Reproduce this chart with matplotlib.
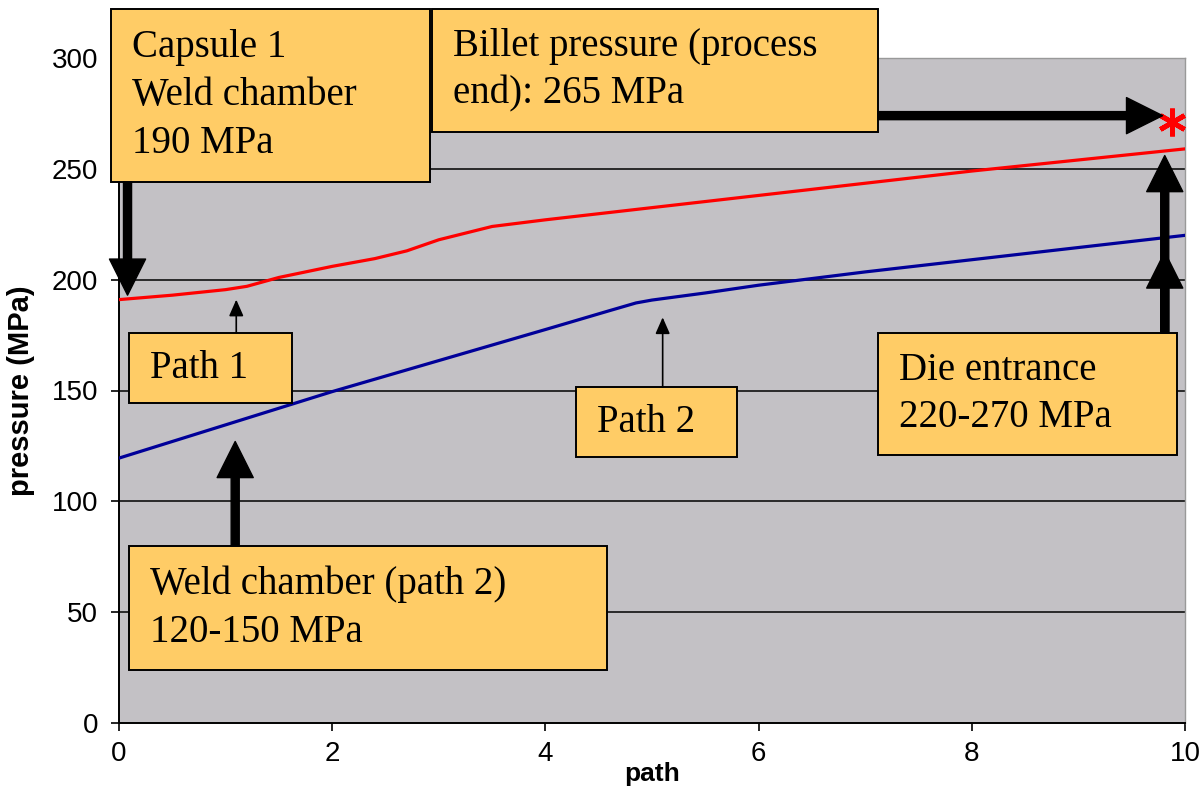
import numpy as np
import matplotlib.pyplot as plt
from matplotlib.patches import Rectangle

# path 1 (red) and path 2 (blue) pressure along the path
path1_x = [0, 0.5, 1.0, 1.2, 1.5, 2.0, 2.4, 2.7, 3.0, 3.5, 4.0, 5.0, 6.0, 7.0, 8.0, 9.0, 10.0]
path1_y = [191, 193, 195.5, 197, 201, 206, 209.5, 213, 218, 224, 227, 232.5, 238, 243.5, 249, 254, 259]
path2_x = [0, 1, 2, 3, 4, 4.6, 4.85, 5.0, 5.5, 6, 7, 8, 9, 10]
path2_y = [119.5, 134.5, 149.5, 163.5, 177.5, 186, 189.5, 190.8, 194, 197.5, 203.5, 209, 214.5, 220]

# billet pressure at process end
billet_x = [9.88]
billet_y = [271]

W, H = 1203, 787
fig = plt.figure(figsize=(W / 100, H / 100), dpi=100)
ax = fig.add_axes([119 / W, 1 - 723 / H, 1066 / W, 665 / H])
ax.set_facecolor('#c3c1c5')

ax.plot(path1_x, path1_y, color='#ff0000', lw=2.3, zorder=3)
ax.plot(path2_x, path2_y, color='#000099', lw=2.3, zorder=3)
ax.plot(billet_x, billet_y, linestyle='none', marker=(6, 2, 0), markersize=20,
        mew=3.5, color='#ff0000', zorder=4)

ax.set_xlim(0, 10)
ax.set_ylim(0, 300)
ax.set_xticks(np.arange(0, 11, 2))
ax.set_yticks(np.arange(0, 301, 50))
ax.yaxis.grid(True, color='black', lw=1.1)
gl = ax.yaxis.get_gridlines()
gl[0].set_visible(False)
gl[-1].set_visible(False)
ax.set_axisbelow(True)

for s in ['left', 'bottom']:
    ax.spines[s].set_color('black')
    ax.spines[s].set_linewidth(1.4)
for s in ['top', 'right']:
    ax.spines[s].set_color('#999999')
    ax.spines[s].set_linewidth(1.0)

ax.tick_params(axis='both', direction='out', length=6, width=1.2, labelsize=20,
               labelfontfamily='Liberation Sans')
ax.tick_params(axis='y', pad=9)
ax.tick_params(axis='x', pad=7)
ax.set_xlabel('path', fontsize=19, fontweight='bold', family='Liberation Sans', labelpad=-4)
ax.set_ylabel('pressure (MPa)', fontsize=21, fontweight='bold', family='Liberation Sans', labelpad=12)

# annotation boxes: (left, top, right, bottom) in pixels from the top-left
boxes = [
    ((111, 9, 430, 182), 'Capsule 1\nWeld chamber\n190 MPa'),
    ((432, 9, 878, 132), 'Billet pressure (process\nend): 265 MPa'),
    ((129, 333, 292, 403), 'Path 1'),
    ((576, 387, 737, 457), 'Path 2'),
    ((878, 333, 1177, 455), 'Die entrance\n220-270 MPa'),
    ((129, 546, 607, 670), 'Weld chamber (path 2)\n120-150 MPa'),
]
for (l, t, r, b), txt in boxes:
    rect = Rectangle((l / W, 1 - b / H), (r - l) / W, (b - t) / H, transform=fig.transFigure,
                     facecolor='#ffcc66', edgecolor='black', lw=1.4, clip_on=False, zorder=5)
    ax.add_patch(rect)
    ax.text((l + 21) / W, 1 - (t + b) / 2 / H, txt, transform=fig.transFigure,
            ha='left', va='center', fontsize=28, family='Liberation Serif',
            linespacing=1.38, zorder=6, clip_on=False)

# arrows: tip and base in data units
big = dict(arrowstyle='simple,head_length=2.6,head_width=2.6,tail_width=0.58',
           fc='black', ec='black', mutation_scale=10, shrinkA=0, shrinkB=0)
small = dict(arrowstyle='-|>,head_length=0.5,head_width=0.22', fc='black', ec='black',
             lw=1.2, mutation_scale=20, shrinkA=0, shrinkB=0)
arrows = [
    ((0.08, 193), (0.08, 244), big),
    ((9.79, 274), (7.12, 274), big),
    ((1.09, 127), (1.09, 80), big),
    ((9.81, 212.5), (9.81, 176), big),
    ((9.81, 256), (9.81, 176), big),
    ((1.1, 191), (1.1, 176), small),
    ((5.1, 183), (5.1, 151.6), small),
]
for tip, base, props in arrows:
    ax.annotate('', xy=tip, xytext=base, xycoords='data', textcoords='data',
                arrowprops=props, annotation_clip=False, zorder=7)

fig.savefig('out.png', dpi=100)
